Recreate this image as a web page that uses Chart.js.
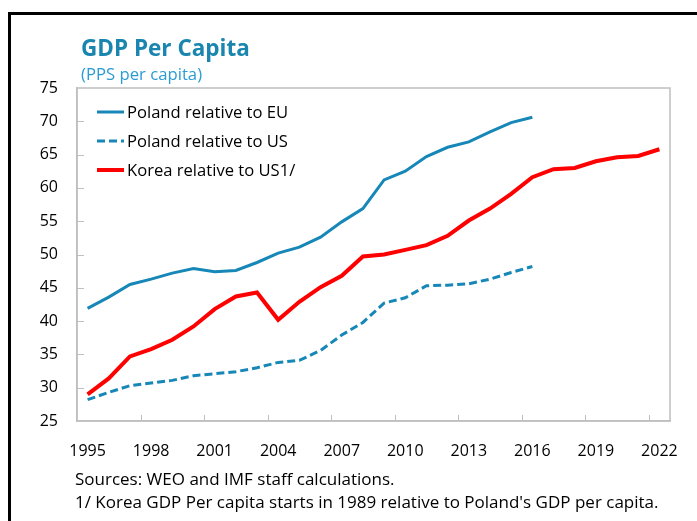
<!DOCTYPE html>
<html>
<head>
<meta charset="utf-8">
<script src="https://cdn.jsdelivr.net/npm/chart.js@4"></script>
<style>
  html, body { margin: 0; padding: 0; background: #fff; }
  #wrap { width: 697px; height: 521px; position: relative; }
</style>
</head>
<body>
<div id="wrap"><canvas id="gdpChart"></canvas></div>
<script>
// Years on the x axis
const years = [1995, 1996, 1997, 1998, 1999, 2000, 2001, 2002, 2003, 2004, 2005, 2006, 2007, 2008,
    2009, 2010, 2011, 2012, 2013, 2014, 2015, 2016, 2017, 2018, 2019, 2020, 2021, 2022];

// Series values
const polandVsEU = [41.9, 43.6, 45.5, 46.3, 47.2, 47.9, 47.4, 47.6, 48.8, 50.2, 51.1, 52.6, 54.9, 56.9,
    61.2, 62.5, 64.7, 66.1, 66.9, 68.4, 69.8, 70.6];
const polandVsUS = [28.2, 29.3, 30.3, 30.7, 31.1, 31.8, 32.1, 32.4, 33.0, 33.8, 34.1, 35.6, 37.9, 39.8,
    42.7, 43.5, 45.3, 45.4, 45.6, 46.3, 47.3, 48.2];
const koreaVsUS = [29.0, 31.4, 34.7, 35.8, 37.2, 39.2, 41.8, 43.7, 44.3, 40.2, 42.9, 45.1, 46.8, 49.7,
    50.0, 50.7, 51.4, 52.8, 55.1, 56.9, 59.1, 61.6, 62.8, 63.0, 64.0, 64.6, 64.8, 65.8];

const yTicks = [25, 30, 35, 40, 45, 50, 55, 60, 65, 70, 75];

const titleText = 'GDP Per Capita';
const subtitleText = '(PPS per capita)';
const notes = [
    'Sources: WEO and IMF staff calculations.',
    "1/ Korea GDP Per capita starts in 1989 relative to Poland's GDP per capita."
];

const blue = '#1787b8';
const red = '#ff0000';
const frameGray = '#bfbfbf';
const font = "'Open Sans', 'Noto Sans', sans-serif";

// frame, titles, footnotes, inside ticks and the legend
const decorations = {
    id: 'decorations',
    beforeDraw(chart) {
        const c = chart.ctx;
        c.save();
        c.fillStyle = '#000';
        c.fillRect(8, 12, 697 - 8, 3);
        c.fillRect(8, 12, 3, 521 - 12);

        c.fillStyle = '#1a86b0';
        c.font = "bold 22.5px " + font;
        c.textBaseline = 'alphabetic';
        c.fillText(titleText, 81, 56);
        c.fillStyle = '#2b9bd3';
        c.font = "16.7px " + font;
        c.fillText(subtitleText, 81, 80);

        c.fillStyle = '#000';
        c.font = "17px " + font;
        c.fillText(notes[0], 75, 485);
        c.fillText(notes[1], 75, 508);
        c.restore();
    },
    afterDraw(chart) {
        const c = chart.ctx;
        const a = chart.chartArea;
        const x = chart.scales.x;
        const y = chart.scales.y;
        c.save();
        c.strokeStyle = frameGray;
        c.lineWidth = 1.5;
        c.strokeRect(a.left, a.top, a.right - a.left, a.bottom - a.top);

        // small ticks pointing into the plot
        c.beginPath();
        yTicks.slice(1, -1).forEach(v => {
            const py = Math.round(y.getPixelForValue(v)) + 0.5;
            c.moveTo(a.left, py);
            c.lineTo(a.left + 7, py);
        });
        const band = x.getPixelForValue(1) - x.getPixelForValue(0);
        for (let i = 3; i < years.length; i += 3) {
            const px = Math.round(x.getPixelForValue(i) - band / 2) + 0.5;
            c.moveTo(px, a.bottom);
            c.lineTo(px, a.bottom - 6);
        }
        c.lineWidth = 1;
        c.stroke();

        // legend inside the plot
        c.font = "16.6px " + font;
        c.textBaseline = 'middle';
        chart.data.datasets.forEach((ds, i) => {
            const ly = 112 + i * 29;
            c.beginPath();
            c.strokeStyle = ds.borderColor;
            c.lineWidth = ds.borderWidth;
            c.setLineDash(ds.borderDash || []);
            c.moveTo(97, ly);
            c.lineTo(124, ly);
            c.stroke();
            c.setLineDash([]);
            c.fillStyle = '#000';
            c.fillText(ds.label, 127, ly + 1);
        });
        c.restore();
    }
};

const ctx = document.getElementById('gdpChart').getContext('2d');
new Chart(ctx, {
    type: 'line',
    data: {
        labels: years.map(String),
        datasets: [{
            label: 'Poland relative to EU',
            data: polandVsEU,
            borderColor: blue,
            borderWidth: 3,
            pointRadius: 0,
            tension: 0
        }, {
            label: 'Poland relative to US',
            data: polandVsUS,
            borderColor: blue,
            borderWidth: 3,
            borderDash: [8, 4],
            pointRadius: 0,
            tension: 0
        }, {
            label: 'Korea relative to US1/',
            data: koreaVsUS,
            borderColor: red,
            borderWidth: 4,
            pointRadius: 0,
            tension: 0
        }]
    },
    options: {
        responsive: true,
        maintainAspectRatio: false,
        animation: false,
        layout: { padding: { top: 88, right: 27, bottom: 60, left: 0 } },
        plugins: {
            legend: { display: false },
            title: { display: false },
            tooltip: { enabled: false }
        },
        scales: {
            x: {
                type: 'category',
                offset: true,
                grid: { display: false },
                border: { color: frameGray, width: 1.5 },
                afterFit: s => { s.height = 40; },
                ticks: {
                    autoSkip: false,
                    maxRotation: 0,
                    padding: 13,
                    color: '#000',
                    font: { family: font, size: 16 },
                    callback: (v, i) => (i % 3 === 0 ? years[i] : '')
                }
            },
            y: {
                min: 25,
                max: 75,
                grid: { display: false },
                border: { color: frameGray, width: 1.5 },
                afterFit: s => { s.width = 77; },
                afterBuildTicks: s => { s.ticks = yTicks.map(v => ({ value: v })); },
                ticks: {
                    padding: 11,
                    color: '#000',
                    font: { family: font, size: 16 }
                }
            }
        }
    },
    plugins: [decorations]
});
</script>
</body>
</html>
